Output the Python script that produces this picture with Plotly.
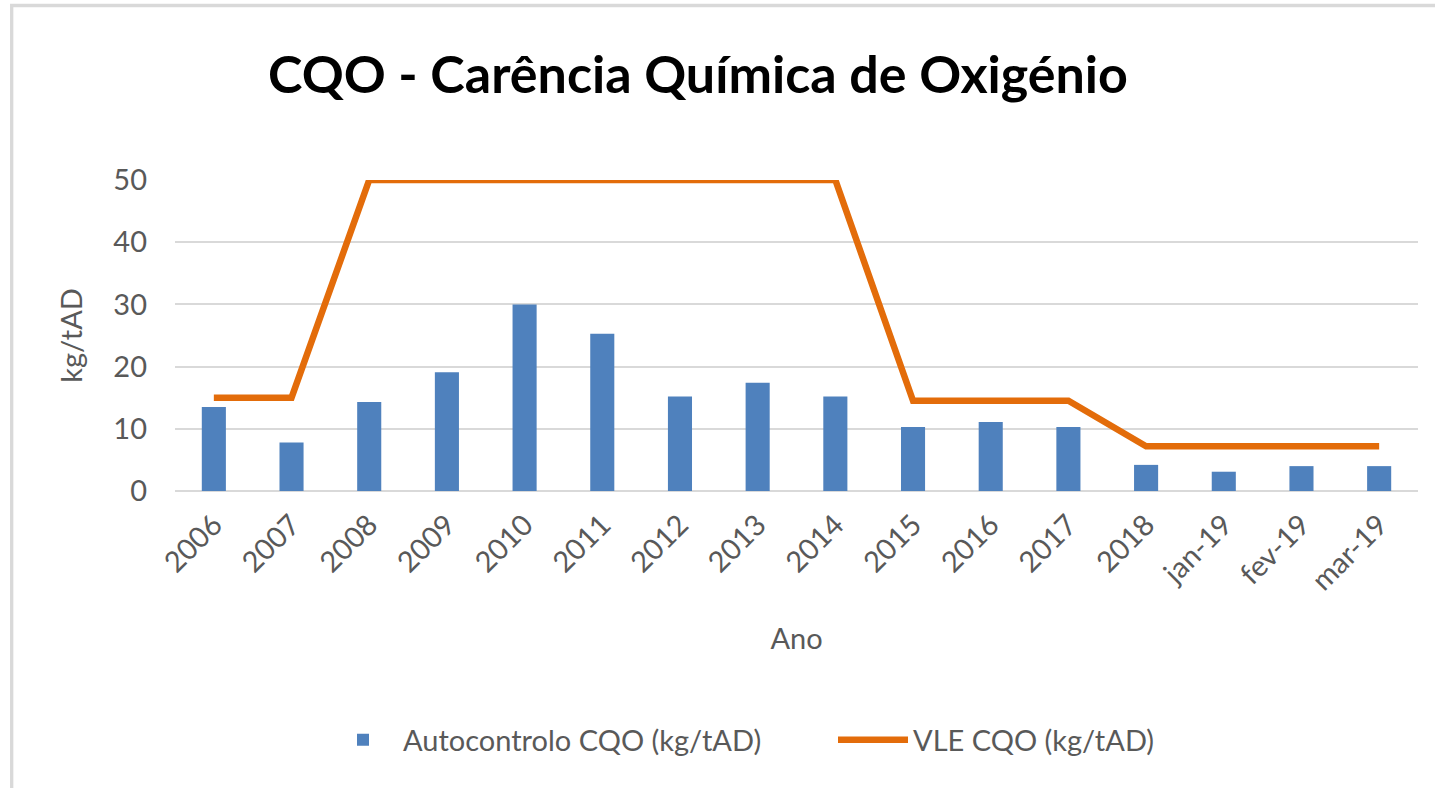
import plotly.graph_objects as go

categories = ["2006", "2007", "2008", "2009", "2010", "2011", "2012", "2013", "2014",
              "2015", "2016", "2017", "2018", "jan-19", "fev-19", "mar-19"]
autocontrolo = [13.5, 7.8, 14.3, 19.1, 30.0, 25.3, 15.2, 17.4, 15.2,
                10.3, 11.1, 10.3, 4.2, 3.1, 4.0, 4.0]
vle = [15.0, 15.0, 50, 50, 50, 50, 50, 50, 50,
       14.5, 14.5, 14.5, 7.2, 7.2, 7.2, 7.2]

FONT = "Lato"
GRAY = "#595959"

fig = go.Figure()
fig.add_trace(go.Bar(
    x=categories, y=autocontrolo, name="Autocontrolo CQO (kg/tAD)",
    marker=dict(color="#4F81BD", line=dict(width=0)), width=0.31,
))
fig.add_trace(go.Scatter(
    x=categories, y=vle, name="VLE CQO (kg/tAD)", mode="lines",
    line=dict(color="#E36C0A", width=6.5),
))

L, R, T, B = 175, 17, 180, 297
W, H = 1435, 788
pw, ph = W - L - R, H - T - B

def px_x(p):
    return (p - L) / pw

def px_y(p):
    return (H - B - p) / ph

fig.update_layout(
    width=W, height=H,
    margin=dict(l=L, r=R, t=T, b=B, pad=0),
    paper_bgcolor="white", plot_bgcolor="white",
    font=dict(family=FONT, color=GRAY, size=30),
    title=dict(text="<b>CQO - Carência Química de Oxigénio</b>",
               font=dict(family=FONT, size=52, color="black"),
               x=698 / W, xanchor="center", xref="container",
               y=1 - 75 / H, yanchor="middle"),
    xaxis=dict(type="category", categoryorder="array", categoryarray=categories,
               range=[-0.5, len(categories) - 0.5],
               tickangle=-45, tickfont=dict(size=29, color=GRAY, family=FONT),
               showgrid=False, showline=False, zeroline=False, ticks="",
               ticklabelstandoff=10,
               title=dict(text="Ano", font=dict(size=29, color=GRAY, family=FONT), standoff=33)),
    yaxis=dict(range=[0, 50], dtick=10, tick0=0,
               showgrid=True, gridcolor="#D9D9D9", gridwidth=1.5,
               zeroline=True, zerolinecolor="#D9D9D9", zerolinewidth=1.5,
               showline=False, ticks="",
               tickfont=dict(size=29, color=GRAY, family=FONT),
               ticklabelstandoff=27,
               title=dict(text="kg/tAD", font=dict(size=29, color=GRAY, family=FONT), standoff=22)),
    legend=dict(orientation="h", x=px_x(323), xanchor="left", y=px_y(740), yanchor="middle",
                font=dict(size=29, color=GRAY, family=FONT), itemwidth=70,
                entrywidth=425, entrywidthmode="pixels",
                bgcolor="rgba(0,0,0,0)", traceorder="normal", itemclick=False),
    bargap=0.69,
    shapes=[dict(type="rect", xref="paper", yref="paper",
                 x0=px_x(11.7), x1=px_x(1450), y0=px_y(5.5), y1=px_y(820),
                 line=dict(color="#D9D9D9", width=3.3), fillcolor="rgba(0,0,0,0)", layer="below")],
)

fig.write_html("out.html", config={"displayModeBar": False},
               post_script="document.body.style.margin='0';document.body.style.overflow='hidden';")
